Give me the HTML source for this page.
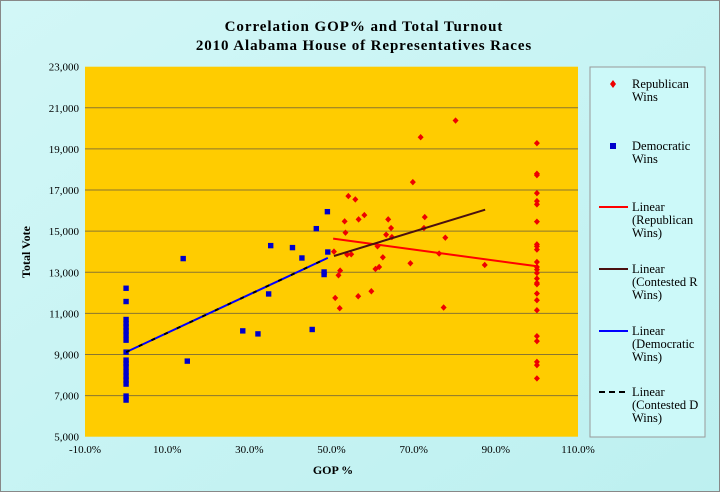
<!DOCTYPE html>
<html><head><meta charset="utf-8"><style>
body{margin:0;width:720px;height:492px;overflow:hidden;background:#fff}
svg text{font-family:"Liberation Serif",serif;fill:#000}
</style></head><body>
<svg id="chart" width="720" height="492">
<defs><linearGradient id="bg" x1="0" y1="0" x2="1" y2="1"><stop offset="0" stop-color="#d2f7f7"/><stop offset="1" stop-color="#bdf0f0"/></linearGradient></defs>
<rect x="0.5" y="0.5" width="719" height="491" fill="url(#bg)" stroke="#888"/>
<text x="364" y="31" text-anchor="middle" font-size="15" font-weight="bold" letter-spacing="0.95">Correlation GOP% and Total Turnout</text>
<text x="364" y="50" text-anchor="middle" font-size="15" font-weight="bold" letter-spacing="0.9">2010 Alabama House of Representatives Races</text>
<rect x="85" y="66.7" width="493" height="370" fill="#FFCC00"/>
<g id="grid"></g><g id="ticks"></g><g id="marks"></g>
<text transform="translate(30,252) rotate(-90)" text-anchor="middle" font-size="12" font-weight="bold">Total Vote</text>
<text x="333" y="474" text-anchor="middle" font-size="12" font-weight="bold">GOP %</text>
<g>
<rect x="590" y="67" width="115" height="370" fill="#ccf9f9" stroke="#999"/>
<path d="M613 80 l3 4 -3 4 -3 -4z" fill="#e00"/>
<text x="632" y="88" font-size="12.5"><tspan x="632">Republican</tspan><tspan x="632" dy="13">Wins</tspan></text>
<rect x="610" y="143" width="6" height="6" fill="#0000cc"/>
<text x="632" y="150" font-size="12.5"><tspan x="632">Democratic</tspan><tspan x="632" dy="13">Wins</tspan></text>
<line x1="599" y1="207" x2="628" y2="207" stroke="#f00" stroke-width="2"/>
<text x="632" y="211" font-size="12.5"><tspan x="632">Linear</tspan><tspan x="632" dy="13">(Republican</tspan><tspan x="632" dy="13">Wins)</tspan></text>
<line x1="599" y1="269" x2="628" y2="269" stroke="#4a1010" stroke-width="2"/>
<text x="632" y="273" font-size="12.5"><tspan x="632">Linear</tspan><tspan x="632" dy="13">(Contested R</tspan><tspan x="632" dy="13">Wins)</tspan></text>
<line x1="599" y1="331" x2="628" y2="331" stroke="#00f" stroke-width="2"/>
<text x="632" y="335" font-size="12.5"><tspan x="632">Linear</tspan><tspan x="632" dy="13">(Democratic</tspan><tspan x="632" dy="13">Wins)</tspan></text>
<line x1="599" y1="392" x2="628" y2="392" stroke="#000" stroke-width="2" stroke-dasharray="6,4"/>
<text x="632" y="396" font-size="12.5"><tspan x="632">Linear</tspan><tspan x="632" dy="13">(Contested D</tspan><tspan x="632" dy="13">Wins)</tspan></text>
</g>
</svg>
<script>
const xTicks=[-10,10,30,50,70,90,110];
const yTicks=[5000,7000,9000,11000,13000,15000,17000,19000,21000,23000];
const demX=[0,0,0,0,0,0,0,0,0,0,0,0,0,0,0,0,0,0,13.9,14.9,28.4,32.1,34.7,35.2,40.5,42.8,45.3,46.3,48.2,48.2,49.0,49.1];
const demY=[12222,11576,10702,10507,10342,10148,9939,9696,9114,8725,8565,8400,8157,7948,7754,7560,6977,6782,13665,8677,10148,10002,11945,14296,14199,13694,10216,15121,13014,12889,15947,13985];
const repX=[80.2,71.7,69.8,54.1,55.8,53.2,56.6,58.0,63.8,72.7,53.4,64.5,63.3,64.7,72.5,77.7,50.6,53.8,54.8,61.2,62.5,76.2,69.2,87.3,60.7,61.6,52.1,51.7,50.9,56.5,59.7,52.0,77.3,
100,100,100,100,100,100,100,100,100,100,100,100,100,100,100,100,100,100,100,100,100,100,100,100,100];
const repY=[20381,19570,17385,16705,16544,15476,15573,15782,15573,15685,14927,15150,14830,14713,15150,14684,14004,13859,13873,14262,13727,13907,13436,13354,13159,13256,13082,12853,11751,11833,12076,11251,11285,
19279,17793,17725,16850,16462,16302,15461,14359,14262,14102,13499,13257,13130,12965,12693,12479,12416,11965,11639,11153,9891,9648,8643,8482,7836];
const repTrendX=[50.4,100];const repTrendY=[14636,13290];
const conRTrendX=[50.6,87.4];const conRTrendY=[13791,16044];
const demTrendX=[0,49.1];const demTrendY=[9114,13700];
const conDTrendX=[0,49.1];const conDTrendY=[9114,13700];
const NS='http://www.w3.org/2000/svg';
const X=v=>85+(v+10)*493/120, Y=v=>436.7-(v-5000)*370/18000;
function mk(t,a,p){const e=document.createElementNS(NS,t);for(const k in a)e.setAttribute(k,a[k]);p.appendChild(e);return e;}
const grid=document.getElementById('grid'),ticks=document.getElementById('ticks'),marks=document.getElementById('marks');
yTicks.forEach(v=>{
 if(v>5000&&v<23000){const g=mk('line',{x1:85,x2:578,y1:Y(v),y2:Y(v),stroke:'#8a7530','stroke-width':1},grid);
 
 }
 const t=mk('text',{x:79,y:Y(v)+4,'text-anchor':'end','font-size':11},ticks);t.textContent=v.toLocaleString('en-US');
 
 
});
xTicks.forEach(v=>{
 const t=mk('text',{x:X(v),y:453,'text-anchor':'middle','font-size':11},ticks);t.textContent=v.toFixed(1)+'%';
 
 
});
demX.forEach((v,i)=>{const r=mk('rect',{x:X(v)-2.7,y:Y(demY[i])-2.7,width:5.4,height:5.4,fill:'#0000cc'},marks);
 
 });
repX.forEach((v,i)=>{const x=X(v),y=Y(repY[i]);const p=mk('path',{d:`M${x} ${y-3.2}L${x+3} ${y}L${x} ${y+3.2}L${x-3} ${y}Z`,fill:'#e00'},marks);
 
 });
function tl(xs,ys,st,dash,name){const l=mk('line',{x1:X(xs[0]),y1:Y(ys[0]),x2:X(xs[1]),y2:Y(ys[1]),stroke:st,'stroke-width':2},marks);if(dash)l.setAttribute('stroke-dasharray',dash);
 
 }
tl(repTrendX,repTrendY,'#f00',null,'trend-republican');
tl(conRTrendX,conRTrendY,'#4a1010',null,'trend-contested-r');
tl(demTrendX,demTrendY,'#00f',null,'trend-democratic');
tl(conDTrendX,conDTrendY,'#000','4,10','trend-contested-d');
</script>
</body></html>
